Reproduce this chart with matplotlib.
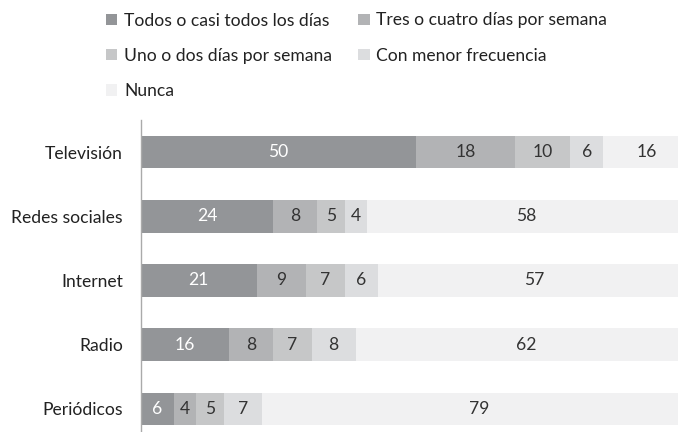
import matplotlib
matplotlib.use("Agg")
import matplotlib.pyplot as plt
from matplotlib.patches import Patch

plt.rcParams['font.family'] = ['Lato', 'DejaVu Sans']

categories = ["Televisión", "Redes sociales", "Internet", "Radio", "Periódicos"]
series_names = ["Todos o casi todos los días", "Tres o cuatro días por semana",
                "Uno o dos días por semana", "Con menor frecuencia", "Nunca"]
values = [
    [50, 24, 21, 16, 6],
    [18, 8, 9, 8, 4],
    [10, 5, 7, 7, 5],
    [6, 4, 6, 8, 7],
    [16, 58, 57, 62, 79],
]
colors = ["#939598", "#b2b3b5", "#c6c7c8", "#dcdddf", "#f1f1f2"]
text_colors = ["white", "#333333", "#333333", "#333333", "#333333"]

FS = 12.6

fig = plt.figure(figsize=(6.78, 4.32), dpi=100)
ax = fig.add_axes([141/678, 0, 1 - 141/678, (432 - 120)/432])

y = list(range(len(categories)))
left = [0]*len(categories)
for s, vals in enumerate(values):
    ax.barh(y, vals, left=left, height=0.51, color=colors[s], edgecolor='none')
    for i, v in enumerate(vals):
        ax.text(left[i] + v/2, y[i], str(v), ha='center', va='center',
                color=text_colors[s], fontsize=FS)
    left = [l + v for l, v in zip(left, vals)]

ax.set_xlim(0, 97.6)
ax.set_ylim(4.36, -0.5)
ax.set_yticks(y)
ax.set_yticklabels(categories, fontsize=FS, color='#222222')
ax.tick_params(axis='y', length=0, pad=13)
ax.set_xticks([])
for sp in ['top', 'right', 'bottom']:
    ax.spines[sp].set_visible(False)
ax.spines['left'].set_color('#aaaaaa')
ax.spines['left'].set_linewidth(1)

handles = [Patch(facecolor=c, edgecolor='none') for c in colors]
order = [0, 2, 4, 1, 3]
fig.legend([handles[i] for i in order], [series_names[i] for i in order],
           ncol=2, loc='upper left', bbox_to_anchor=(102/678, 1.0 - 9/432),
           frameon=False, fontsize=FS, handlelength=0.65, handleheight=0.65,
           handletextpad=0.4, labelspacing=1.1, columnspacing=1.5,
           borderaxespad=0, borderpad=0.2, labelcolor='#222222')

fig.savefig("out.png", dpi=100)
